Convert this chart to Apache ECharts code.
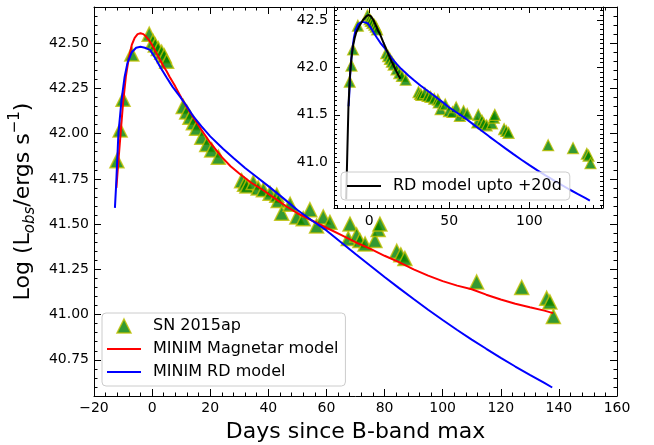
<!DOCTYPE html>
<html>
<head>
<meta charset="utf-8">
<script src="https://cdn.jsdelivr.net/npm/echarts@6/dist/echarts.min.js"></script>
<style>
  html, body { margin: 0; padding: 0; background: #fff; }
  #chart { width: 654px; height: 445px; }
</style>
</head>
<body>
<div id="chart"></div>
<script>
// SN 2015ap bolometric light curve: days since B-band maximum vs log luminosity
const obsDays = [-12.1, -11.0, -10.0, -7.0, -1.0, 0.3, 1.1, 2.1, 3.3, 4.2, 5.0,
  10.7, 11.9, 13.0, 14.2, 15.3, 17.1, 18.8, 20.5, 22.8,
  30.8, 31.8, 32.6, 34.8, 36.5, 38.3, 40.6, 42.9, 43.4, 44.6, 47.5, 49.8, 52.0, 54.3,
  56.6, 58.9, 61.2, 67.5, 68.1, 70.4, 71.5, 73.3, 76.7, 77.8, 78.4, 84.2, 85.6, 87.0,
  111.7, 127.2, 135.8, 136.9, 138.1];
const obsLogL = [41.85, 42.02, 42.19, 42.44, 42.55, 42.51, 42.49, 42.47, 42.45, 42.43, 42.40,
  42.15, 42.12, 42.09, 42.06, 42.03, 41.98, 41.94, 41.91, 41.87,
  41.74, 41.72, 41.71, 41.73, 41.70, 41.69, 41.67, 41.66, 41.63, 41.56, 41.61, 41.54, 41.53, 41.58,
  41.49, 41.54, 41.51, 41.42, 41.50, 41.44, 41.41, 41.39, 41.41, 41.47, 41.50, 41.35, 41.33, 41.31,
  41.18, 41.15, 41.09, 41.07, 40.99];

// MINIM magnetar fit
const magnetarDays = [-12.3, -11.5, -11, -10, -9, -8, -7, -6, -5, -4, -3, -2, -1, 0, 1, 2, 3, 4, 5, 6,
  8, 10, 12, 14, 17, 20, 24, 27, 30, 34, 38, 42, 46, 50, 55, 60, 65, 70, 75, 80, 85, 90, 95,
  100, 105, 110, 115, 120, 125, 130, 135, 138];
const magnetarLogL = [41.70, 41.87, 41.97, 42.17, 42.32, 42.42, 42.49, 42.53, 42.55, 42.555, 42.55, 42.535,
  42.515, 42.49, 42.46, 42.43, 42.40, 42.37, 42.345, 42.315,
  42.26, 42.20, 42.145, 42.095, 42.02, 41.95, 41.87, 41.82, 41.78, 41.73, 41.69, 41.645, 41.60, 41.56,
  41.52, 41.48, 41.44, 41.40, 41.365, 41.325, 41.29, 41.25, 41.215,
  41.185, 41.16, 41.14, 41.11, 41.083, 41.06, 41.04, 41.022, 41.008];

// MINIM radioactive-decay fit
const rdDays = [-12.8, -12.4, -11.6, -10.5, -9.5, -8.5, -7, -5.5, -4, -2.5, -0.7, 1, 3, 5, 7, 9.6, 12,
  14.2, 17, 20, 24.5, 28, 32, 36, 40, 45, 50, 55, 60, 65, 70, 75, 80, 85, 90, 95,
  100, 105, 110, 115, 120, 125, 130, 135, 137.7];
const rdLogL = [41.59, 41.71, 42.00, 42.19, 42.31, 42.39, 42.45, 42.475, 42.48, 42.475, 42.463, 42.42,
  42.363, 42.31, 42.26, 42.205, 42.15,
  42.095, 42.04, 41.985, 41.915, 41.865, 41.81, 41.76, 41.71, 41.645, 41.578, 41.52, 41.465, 41.40,
  41.335, 41.271, 41.208, 41.146, 41.086, 41.027,
  40.97, 40.915, 40.862, 40.811, 40.761, 40.713, 40.667, 40.622, 40.597];

// RD fit restricted to the first +20 days
const rdEarlyDays = [-14.3, -13.6, -12.9, -12, -11, -10, -9, -8, -6, -4, -2, -0.5, 1, 2.7, 4, 5.5, 6.8,
  9, 11, 13, 15.1, 17, 18.2, 19.5];
const rdEarlyLogL = [40.61, 41.10, 41.58, 41.90, 42.10, 42.23, 42.31, 42.37, 42.44, 42.495, 42.535, 42.553,
  42.54, 42.50, 42.45, 42.39, 42.35, 42.26, 42.18, 42.10, 42.025, 41.96, 41.92, 41.88];

// Tick labels
const mainXTicks = [-20, 0, 20, 40, 60, 80, 100, 120, 140, 160];
const mainYTicks = [40.75, 41.00, 41.25, 41.50, 41.75, 42.00, 42.25, 42.50];
const insetXTicks = [0, 50, 100];
const insetYTicks = [41.0, 41.5, 42.0, 42.5];

const FONT = "'DejaVu Sans', sans-serif";

function steps(from, to, step) {
  const out = [];
  for (let v = from; v <= to + 1e-9; v += step) out.push(Math.round(v * 1000) / 1000);
  return out;
}
const pairs = (xs, ys) => xs.map((x, i) => [x, ys[i]]);
const minusFmt = v => (v < 0 ? '\u2212' + Math.abs(v) : String(v));

const MAIN_X = [-20, 160], MAIN_Y = [40.55, 42.70];
const INSET_X = [-21.9, 145.9], INSET_Y = [40.518, 42.637];

// one axis that only carries ticks (and optionally labels / line / name)
function tickAxis(o) {
  const ax = {
    type: 'value', gridIndex: o.grid, position: o.pos, min: o.range[0], max: o.range[1],
    zlevel: o.zlevel || 0, z: 5,
    axisLine: { show: !!o.line, onZero: false, lineStyle: { color: '#000', width: 1 } },
    axisTick: { show: true, inside: true, length: o.len, customValues: o.ticks,
      lineStyle: { color: '#000', width: 1 } },
    axisLabel: o.fmt ? { show: true, customValues: o.ticks, formatter: o.fmt, margin: o.margin,
      color: '#000', fontFamily: FONT, fontSize: o.fs } : { show: false },
    splitLine: { show: false }, minorTick: { show: false }, minorSplitLine: { show: false }
  };
  if (o.name) {
    ax.name = o.name; ax.nameLocation = 'middle'; ax.nameGap = o.nameGap;
    ax.nameTextStyle = o.nameStyle;
  }
  return ax;
}

// four axes per panel side pair: major+minor ticks on the low side, major+minor on the high side
function frameAxes(grid, range, majors, minors, lowPos, highPos, extra, zlevel, majorLen, minorLen) {
  return [
    tickAxis(Object.assign({ grid, pos: lowPos, range, ticks: majors, len: majorLen, line: true, zlevel }, extra)),
    tickAxis({ grid, pos: lowPos, range, ticks: minors, len: minorLen, zlevel }),
    tickAxis({ grid, pos: highPos, range, ticks: majors, len: majorLen, line: true, zlevel }),
    tickAxis({ grid, pos: highPos, range, ticks: minors, len: minorLen, zlevel })
  ];
}

const xAxes = [].concat(
  frameAxes(0, MAIN_X, mainXTicks, steps(-20, 160, 4), 'bottom', 'top', {
    fmt: minusFmt, margin: 5, fs: 14,
    name: 'Days since B-band max', nameGap: 25,
    nameStyle: { fontFamily: FONT, fontSize: 22, color: '#000' }
  }, 0, 7, 3.5),
  frameAxes(1, INSET_X, insetXTicks, steps(-20, 145, 5), 'bottom', 'top', {
    fmt: minusFmt, margin: 6, fs: 14
  }, 1, 6, 3)
);

const yAxes = [].concat(
  frameAxes(0, MAIN_Y, mainYTicks, steps(40.55, 42.70, 0.05), 'left', 'right', {
    fmt: v => v.toFixed(2), margin: 5, fs: 14,
    name: '{n|Log (L}{sub|obs}{n|/ergs s}{sup|\u22121}{n|)}', nameGap: 52,
    nameStyle: {
      fontFamily: FONT, fontSize: 22, color: '#000',
      rich: {
        n: { fontFamily: FONT, fontSize: 22, color: '#000', lineHeight: 30 },
        sub: { fontFamily: FONT, fontSize: 15, fontStyle: 'italic', color: '#000', verticalAlign: 'bottom' },
        sup: { fontFamily: FONT, fontSize: 15, color: '#000', verticalAlign: 'top' }
      }
    }
  }, 0, 7, 3.5),
  frameAxes(1, INSET_Y, insetYTicks, steps(40.55, 42.60, 0.05), 'left', 'right', {
    fmt: v => v.toFixed(1), margin: 6, fs: 14
  }, 1, 6, 3)
);

const triangle = (size, edge) => ({
  type: 'scatter', symbol: 'triangle', symbolSize: size,
  itemStyle: { color: '#008000', borderColor: '#bfbf00', borderWidth: edge }
});
const lineSeries = (color) => ({
  type: 'line', showSymbol: false, symbol: 'none', smooth: false,
  lineStyle: { color, width: 2 }, itemStyle: { color }
});

const series = [
  Object.assign(triangle(14, 1.5), { name: 'SN 2015ap', xAxisIndex: 0, yAxisIndex: 0, z: 2,
    data: pairs(obsDays, obsLogL) }),
  Object.assign(lineSeries('#ff0000'), { name: 'MINIM Magnetar model', xAxisIndex: 0, yAxisIndex: 0, z: 3,
    data: pairs(magnetarDays, magnetarLogL) }),
  Object.assign(lineSeries('#0000ff'), { name: 'MINIM RD model', xAxisIndex: 0, yAxisIndex: 0, z: 3,
    data: pairs(rdDays, rdLogL) }),
  // inset panel
  Object.assign(triangle(11, 1.2), { name: 'SN 2015ap', xAxisIndex: 4, yAxisIndex: 4, zlevel: 1, z: 2,
    data: pairs(obsDays, obsLogL) }),
  Object.assign(lineSeries('#0000ff'), { name: 'MINIM RD model', xAxisIndex: 4, yAxisIndex: 4, zlevel: 1, z: 3,
    data: pairs(rdDays, rdLogL) }),
  Object.assign(lineSeries('#000000'), { name: 'RD model upto +20d', xAxisIndex: 4, yAxisIndex: 4, zlevel: 1, z: 3,
    data: pairs(rdEarlyDays, rdEarlyLogL) })
];

// legend glyphs: a short bar for the fitted curves, a triangle for the photometry
const LINE_ICON = 'path://M0,0H34V2H0Z';
const TRI_ICON = 'path://M7,0L14,14L0,14Z';

const legendBase = {
  orient: 'vertical', itemWidth: 34, itemHeight: 14, selectedMode: false, symbolKeepAspect: true,
  backgroundColor: 'rgba(255,255,255,0.8)', borderColor: '#cccccc', borderWidth: 1, borderRadius: 4,
  textStyle: { fontFamily: FONT, fontSize: 16, color: '#000', padding: [0, 0, 0, 7] }
};

const option = {
  animation: false,
  backgroundColor: '#fff',
  grid: [
    { left: 94, top: 7, width: 523, height: 389, show: true, backgroundColor: '#fff',
      borderWidth: 0, containLabel: false, outerBoundsMode: 'none' },
    { left: 334, top: 7, width: 269, height: 201, show: true, backgroundColor: '#fff',
      borderWidth: 0, containLabel: false, outerBoundsMode: 'none', zlevel: 1 }
  ],
  xAxis: xAxes,
  yAxis: yAxes,
  legend: [
    Object.assign({}, legendBase, {
      data: [
        { name: 'SN 2015ap', icon: TRI_ICON, itemStyle: { color: '#008000', borderColor: '#bfbf00', borderWidth: 1.5 } },
        { name: 'MINIM Magnetar model', icon: LINE_ICON, itemStyle: { color: '#ff0000', borderWidth: 0 } },
        { name: 'MINIM RD model', icon: LINE_ICON, itemStyle: { color: '#0000ff', borderWidth: 0 } }
      ],
      left: 102, top: 313, itemGap: 7, padding: [5, 7, 6, 5], z: 10
    }),
    Object.assign({}, legendBase, {
      data: [{ name: 'RD model upto +20d', icon: LINE_ICON, itemStyle: { color: '#000000', borderWidth: 0 } }],
      left: 341, top: 172, padding: [6, 8, 6, 6], zlevel: 1, z: 10
    })
  ],
  series
};

const chart = echarts.init(document.getElementById('chart'), null, { renderer: 'canvas' });
chart.setOption(option);
</script>
</body>
</html>
